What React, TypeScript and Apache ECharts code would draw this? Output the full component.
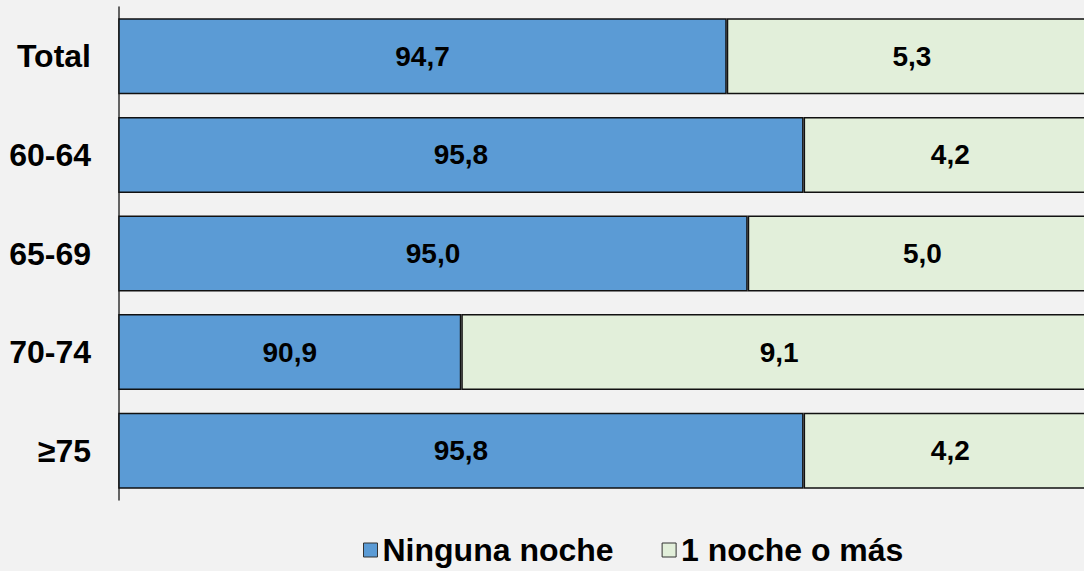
import React, { useEffect, useRef } from "react";
import * as echarts from "echarts";

const categories = ["Total", "60-64", "65-69", "70-74", "≥75"];
const ningunaNoche = [94.7, 95.8, 95.0, 90.9, 95.8];
const unaNocheOMas = [5.3, 4.2, 5.0, 9.1, 4.2];
const seriesNames = ["Ninguna noche", "1 noche o más"];

const FONT = "Arial, 'Liberation Sans', sans-serif";
const fmt = (v: number) => v.toFixed(1).replace(".", ",");

export default function App() {
  const ref = useRef<HTMLDivElement>(null);
  useEffect(() => {
    if (!ref.current) return;
    const chart = echarts.init(ref.current, undefined, { renderer: "svg" });
    const labelStyle = {
      show: true,
      position: "inside",
      color: "#000",
      fontSize: 28,
      fontWeight: "bold",
      fontFamily: FONT,
      formatter: (p: any) => fmt(p.value),
    };
    chart.setOption({
      animation: false,
      backgroundColor: "#F2F2F2",
      textStyle: { fontFamily: FONT },
      grid: { left: 119, top: 7, width: 978, height: 493 },
      xAxis: {
        type: "value",
        min: 86,
        max: 100,
        show: false,
        splitLine: { show: false },
      },
      yAxis: {
        type: "category",
        data: categories,
        inverse: true,
        axisLine: { show: true, lineStyle: { color: "#333", width: 1.5 } },
        axisTick: { show: false },
        axisLabel: {
          color: "#000",
          fontSize: 32,
          fontWeight: "bold",
          fontFamily: FONT,
          margin: 28,
        },
      },
      legend: {
        left: 358,
        top: 529,
        icon: "rect",
        itemWidth: 14,
        itemHeight: 14,
        itemGap: 48,
        itemStyle: { borderWidth: 1, borderColor: "#333" },
        textStyle: {
          color: "#000",
          fontSize: 32,
          fontWeight: "bold",
          fontFamily: FONT,
        },
        data: seriesNames,
      },
      series: [
        {
          name: seriesNames[0],
          type: "bar",
          stack: "total",
          barWidth: 76,
          data: ningunaNoche,
          itemStyle: { color: "#5B9BD5", borderColor: "#111", borderWidth: 1.5 },
          label: labelStyle,
        },
        {
          name: seriesNames[1],
          type: "bar",
          stack: "total",
          barWidth: 76,
          data: unaNocheOMas,
          itemStyle: { color: "#E2EFDA", borderColor: "#111", borderWidth: 1.5 },
          label: labelStyle,
        },
      ],
    });
    return () => chart.dispose();
  }, []);
  return (
    <div
      ref={ref}
      style={{ position: "fixed", left: 0, top: 0, width: 1110, height: 571 }}
    />
  );
}
